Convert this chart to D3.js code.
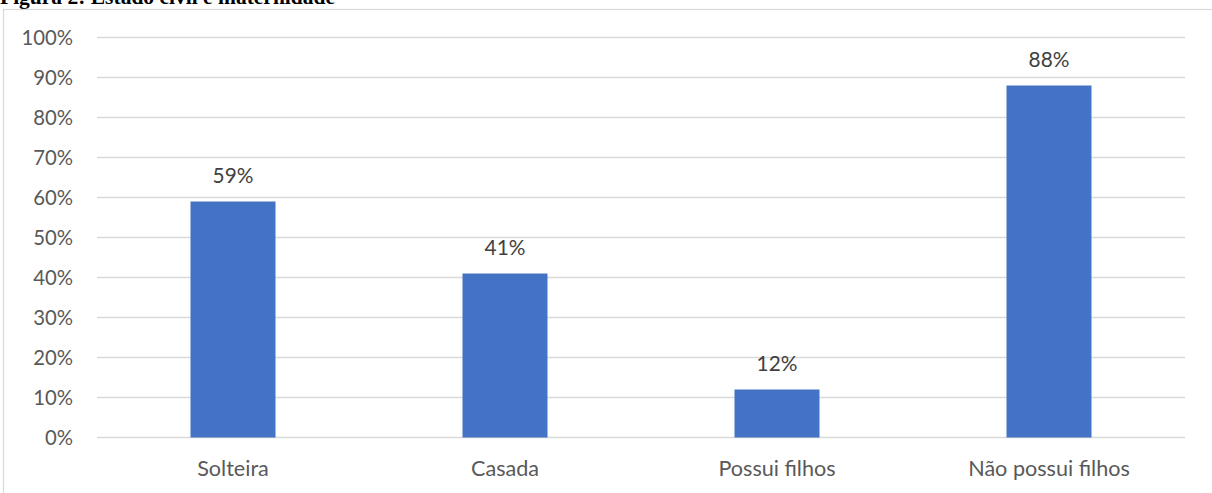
<!DOCTYPE html>
<html>
<head>
<meta charset="utf-8">
<script src="https://cdn.jsdelivr.net/npm/d3@7"></script>
<style>
  html, body { margin: 0; padding: 0; background: #fff; }
  svg { display: block; }
</style>
</head>
<body>
<svg id="chart" width="1212" height="493"></svg>
<script>
const title = "Figura 2: Estado civil e maternidade";
const categories = ["Solteira", "Casada", "Possui filhos", "Não possui filhos"];
const values = [0.59, 0.41, 0.12, 0.88];
const yTicks = [0, 0.1, 0.2, 0.3, 0.4, 0.5, 0.6, 0.7, 0.8, 0.9, 1.0];

const svg = d3.select("#chart");
const W = 1212, H = 493;
const font = "Lato, 'Open Sans', sans-serif";

// Title (cut off at top, as in the source figure)
svg.append("text")
  .attr("x", 0).attr("y", 4)
  .attr("font-family", "'Liberation Serif', 'Times New Roman', serif")
  .attr("font-weight", "bold")
  .attr("font-size", 21.5)
  .attr("fill", "#000")
  .text(title);

// Frame
svg.append("rect")
  .attr("x", 3.5).attr("y", 9.5)
  .attr("width", W + 10).attr("height", H + 10)
  .attr("fill", "none")
  .attr("stroke", "#d9d9d9")
  .attr("stroke-width", 1.2);

const x = d3.scaleBand()
  .domain(categories)
  .range([97, 1185])
  .paddingInner(0.6875)
  .paddingOuter(0.34375);

const y = d3.scaleLinear().domain([0, 1]).range([437.5, 37.5]);

// Gridlines
svg.append("g")
  .selectAll("line")
  .data(yTicks)
  .join("line")
  .attr("x1", 97).attr("x2", 1185)
  .attr("y1", d => y(d)).attr("y2", d => y(d))
  .attr("stroke", "#d9d9d9")
  .attr("stroke-width", 1.4);

// Y axis labels
const yAxis = d3.axisLeft(y).tickValues(yTicks).tickFormat(d3.format(".0%")).tickSize(0).tickPadding(0);
const yg = svg.append("g").attr("transform", "translate(73,0)").call(yAxis);
yg.select(".domain").remove();
yg.selectAll("text")
  .attr("font-family", font)
  .attr("font-size", 20.3)
  .attr("fill", "#595959");

// Bars
svg.append("g")
  .selectAll("rect")
  .data(values)
  .join("rect")
  .attr("x", (d, i) => x(categories[i]))
  .attr("width", x.bandwidth())
  .attr("y", d => y(d))
  .attr("height", d => y(0) - y(d))
  .attr("fill", "#4472c4");

// Data labels
svg.append("g")
  .selectAll("text")
  .data(values)
  .join("text")
  .attr("x", (d, i) => x(categories[i]) + x.bandwidth() / 2)
  .attr("y", d => y(d) - 18.5)
  .attr("text-anchor", "middle")
  .attr("font-family", font)
  .attr("font-size", 20.8)
  .attr("fill", "#404040")
  .text(d => d3.format(".0%")(d));

// X axis labels
const xAxis = d3.axisBottom(x).tickSize(0).tickPadding(0);
const xg = svg.append("g").call(xAxis);
xg.select(".domain").remove();
xg.selectAll("text")
  .attr("y", 476)
  .attr("dy", null)
  .attr("font-family", font)
  .attr("font-size", 21.6)
  .attr("fill", "#595959");
</script>
</body>
</html>
